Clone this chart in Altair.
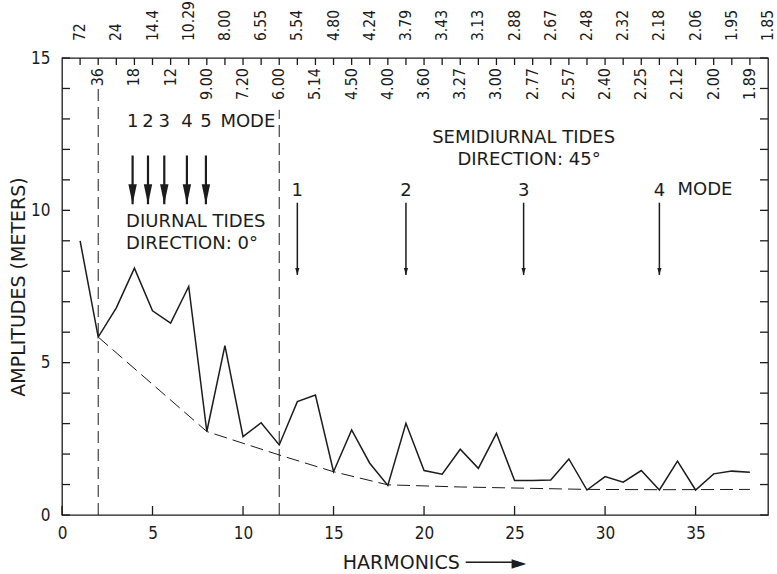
import altair as alt
import pandas as pd

# ---------------- data ----------------
harmonics = list(range(1, 39))
amplitude = [9.0, 5.84, 6.8, 8.1, 6.7, 6.3, 7.5, 2.74, 5.56, 2.57,
             3.03, 2.3, 3.72, 3.94, 1.42, 2.79, 1.7, 0.97, 3.01, 1.46,
             1.34, 2.16, 1.53, 2.68, 1.13, 1.13, 1.15, 1.84, 0.82, 1.26,
             1.08, 1.46, 0.82, 1.77, 0.82, 1.35, 1.44, 1.40]

env_harmonic = [2, 8, 12, 15, 18, 22, 29, 33, 38]
env_amplitude = [5.84, 2.74, 1.97, 1.42, 0.99, 0.92, 0.84, 0.83, 0.84]

boundary_harmonic = [2, 12]
boundary_top = [14.05, 13.3]

odd_harmonic = list(range(1, 40, 2))
odd_period = ["72", "24", "14.4", "10.29", "8.00", "6.55", "5.54", "4.80",
              "4.24", "3.79", "3.43", "3.13", "2.88", "2.67", "2.48", "2.32",
              "2.18", "2.06", "1.95", "1.85"]
even_harmonic = list(range(2, 39, 2))
even_period = ["36", "18", "12", "9.00", "7.20", "6.00", "5.14", "4.50",
               "4.00", "3.60", "3.27", "3.00", "2.77", "2.57", "2.40", "2.25",
               "2.12", "2.00", "1.89"]

x_major = [0, 5, 10, 15, 20, 25, 30, 35]
x_minor = list(range(1, 39))
y_minor = list(range(0, 16))

diurnal_mode = ["1", "2", "3", "4", "5"]
diurnal_x = [3.9, 4.75, 5.65, 6.9, 7.95]
diurnal_top, diurnal_tip, diurnal_label = 11.8, 10.2, 12.9

semi_mode = ["1", "2", "3", "4"]
semi_x = [13, 19, 25.5, 33]
semi_top, semi_tip, semi_label = 10.25, 7.88, 10.62

notes_text = ["MODE", "DIURNAL TIDES", "DIRECTION: 0°", "MODE"]
notes_h = [8.75, 3.54, 3.54, 34.0]
notes_v = [12.9, 9.63, 8.9, 10.67]
center_text = ["SEMIDIURNAL TIDES", "DIRECTION: 45°"]
center_h = [25.5, 25.8]
center_v = [12.38, 11.66]

# ---------------- styling ----------------
ink = "#1c1c1c"
FONT = "DejaVu Sans"
NARROW = "Liberation Sans Narrow, DejaVu Sans Condensed, Liberation Sans"
W, H = 706, 457
XS = alt.Scale(domain=[0, 39], nice=False, zero=False)
YS = alt.Scale(domain=[0, 15], nice=False, zero=False)

main_df = pd.DataFrame({"h": harmonics, "amp": amplitude})
env_df = pd.DataFrame({"h": env_harmonic, "amp": env_amplitude})
bnd_df = pd.DataFrame({"h": boundary_harmonic, "y0": [0, 0], "y1": boundary_top})
odd_df = pd.DataFrame({"h": odd_harmonic, "lbl": odd_period})
even_df = pd.DataFrame({"h": even_harmonic, "lbl": even_period})
xmaj_df = pd.DataFrame({"h": x_major})
xmin_df = pd.DataFrame({"h": x_minor})
ymin_df = pd.DataFrame({"v": y_minor})
di_df = pd.DataFrame({"h": diurnal_x, "mode": diurnal_mode,
                      "top": [diurnal_top] * 5, "tip": [diurnal_tip] * 5,
                      "lab": [diurnal_label] * 5})
se_df = pd.DataFrame({"h": semi_x, "mode": semi_mode,
                      "top": [semi_top] * 4, "tip": [semi_tip] * 4,
                      "lab": [semi_label] * 4})
notes_df = pd.DataFrame({"h": notes_h, "v": notes_v, "t": notes_text})
center_df = pd.DataFrame({"h": center_h, "v": center_v, "t": center_text})

solid = alt.Chart(main_df).mark_line(color=ink, strokeWidth=1.5).encode(
    x=alt.X("h:Q", scale=XS, axis=alt.Axis(
        orient="bottom", values=x_major, offset=-8,
        tickSize=8, ticks=True, tickOpacity=0, domain=False, grid=False,
        labelPadding=10, labelFontSize=17, labelFont=NARROW, labelColor=ink,
        labelFlush=False, labelOverlap=False,
        title="HARMONICS \u2500\u2500\u2500\u2500\u25BA", titleFont=FONT,
        titleFontSize=19, titleFontWeight="normal", titleColor=ink,
        titlePadding=12, titleX=372)),
    y=alt.Y("amp:Q", scale=YS, axis=alt.Axis(
        orient="left", values=y_minor, offset=-7, tickSize=7, ticks=True,
        tickOpacity=0,
        labelExpr="datum.value % 5 === 0 ? datum.label : ''",
        domain=False, grid=False, labelPadding=12, labelFontSize=17,
        labelFont=NARROW, labelColor=ink, labelFlush=False,
        labelOverlap=False, title="AMPLITUDES (METERS)", titleFont=FONT,
        titleFontSize=19, titleFontWeight="normal", titleColor=ink,
        titlePadding=2)),
)

envelope = alt.Chart(env_df).mark_line(color=ink, strokeWidth=1.0,
                                        strokeDash=[13, 6]).encode(
    x=alt.X("h:Q", scale=XS, axis=None),
    y=alt.Y("amp:Q", scale=YS, axis=None),
)

bounds = alt.Chart(bnd_df).mark_rule(color=ink, strokeWidth=1.0,
                                      strokeDash=[12, 6]).encode(
    x=alt.X("h:Q", scale=XS, axis=None),
    y=alt.Y("y0:Q", scale=YS, axis=None),
    y2="y1:Q",
)

# inward tick marks on the four sides of the frame
tick_top = alt.Chart(xmin_df).mark_rule(color=ink, strokeWidth=1.3).encode(
    x=alt.X("h:Q", scale=XS, axis=None), y=alt.value(0), y2=alt.value(7))
tick_bottom = alt.Chart(xmaj_df).mark_rule(color=ink, strokeWidth=1.3).encode(
    x=alt.X("h:Q", scale=XS, axis=None), y=alt.value(H), y2=alt.value(H - 9))
tick_left = alt.Chart(ymin_df).mark_rule(color=ink, strokeWidth=1.3).encode(
    y=alt.Y("v:Q", scale=YS, axis=None), x=alt.value(0), x2=alt.value(8))
tick_right = alt.Chart(ymin_df).mark_rule(color=ink, strokeWidth=1.3).encode(
    y=alt.Y("v:Q", scale=YS, axis=None), x=alt.value(W - 8), x2=alt.value(W))

odd_txt = alt.Chart(odd_df).mark_text(angle=270, align="left", baseline="middle",
                                      font=NARROW, fontSize=15.5, color=ink).encode(
    x=alt.X("h:Q", scale=XS, axis=None), y=alt.value(-17), text="lbl:N")
even_txt = alt.Chart(even_df).mark_text(angle=270, align="right", baseline="middle",
                                        font=NARROW, fontSize=16, color=ink).encode(
    x=alt.X("h:Q", scale=XS, axis=None), y=alt.value(10), text="lbl:N")

di_shaft = alt.Chart(di_df).mark_rule(color=ink, strokeWidth=2.2).encode(
    x=alt.X("h:Q", scale=XS, axis=None),
    y=alt.Y("top:Q", scale=YS, axis=None), y2="tip:Q")
di_head = alt.Chart(di_df).mark_point(shape="M-0.42,-2L0.42,-2L0,0Z", filled=True,
                                      size=400, color=ink, opacity=1,
                                      strokeWidth=0).encode(
    x=alt.X("h:Q", scale=XS, axis=None), y=alt.Y("tip:Q", scale=YS, axis=None))
di_lab = alt.Chart(di_df).mark_text(font=FONT, fontSize=18, color=ink,
                                    baseline="middle").encode(
    x=alt.X("h:Q", scale=XS, axis=None), y=alt.Y("lab:Q", scale=YS, axis=None),
    text="mode:N")

se_shaft = alt.Chart(se_df).mark_rule(color=ink, strokeWidth=1.5).encode(
    x=alt.X("h:Q", scale=XS, axis=None),
    y=alt.Y("top:Q", scale=YS, axis=None), y2="tip:Q")
se_head = alt.Chart(se_df).mark_point(shape="M-0.6,-2L0.6,-2L0,0Z", filled=True,
                                      size=49, color=ink, opacity=1,
                                      strokeWidth=0).encode(
    x=alt.X("h:Q", scale=XS, axis=None), y=alt.Y("tip:Q", scale=YS, axis=None))
se_lab = alt.Chart(se_df).mark_text(font=FONT, fontSize=18, color=ink,
                                    baseline="middle").encode(
    x=alt.X("h:Q", scale=XS, axis=None), y=alt.Y("lab:Q", scale=YS, axis=None),
    text="mode:N")

notes = alt.Chart(notes_df).mark_text(font=FONT, fontSize=18, color=ink,
                                      align="left", baseline="middle").encode(
    x=alt.X("h:Q", scale=XS, axis=None), y=alt.Y("v:Q", scale=YS, axis=None),
    text="t:N")
centers = alt.Chart(center_df).mark_text(font=FONT, fontSize=18, color=ink,
                                         align="center", baseline="middle").encode(
    x=alt.X("h:Q", scale=XS, axis=None), y=alt.Y("v:Q", scale=YS, axis=None),
    text="t:N")

chart = alt.layer(
    bounds, envelope, solid, tick_top, tick_bottom, tick_left, tick_right,
    odd_txt, even_txt,
    di_shaft, di_head, di_lab, se_shaft, se_head, se_lab, notes, centers,
).resolve_axis(x="independent", y="independent").properties(
    width=W, height=H,
    padding={"left": 62, "top": 58, "right": 9, "bottom": 59},
    autosize=alt.AutoSizeParams(type="none"),
    background="white",
).configure_view(stroke=ink, strokeWidth=1.3)

chart.save("out.html", embed_options={"renderer": "svg", "actions": False})
